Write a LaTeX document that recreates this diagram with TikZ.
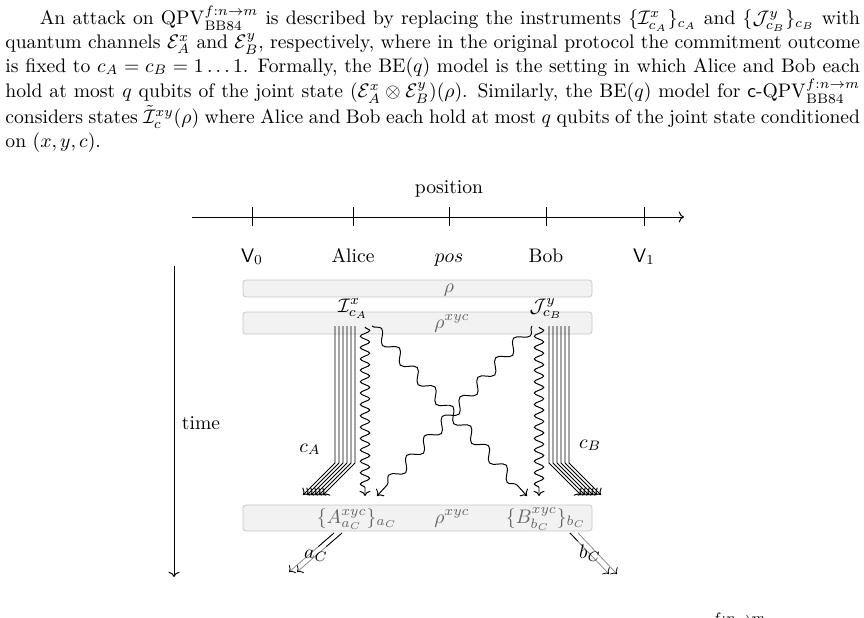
\documentclass[tikz,border=0pt]{standalone}
\usetikzlibrary{decorations.pathmorphing,arrows.meta,calc,fit}
\begin{document}
\begin{tikzpicture}[x=0.5102pt,y=-0.5102pt, line width=0.5pt,
  statebox/.style={draw=black!22, fill=black!5, rounded corners=1.5pt, inner sep=0pt, line width=0.4pt},
  boxlabel/.style={text=black!60, inner sep=0pt, anchor=base},
  lbl/.style={inner sep=0pt, anchor=base},
  cwire/.style={->},
  qwire/.style={->, decorate, decoration={snake, amplitude=2.4pt, segment length=5.8pt, post length=3pt}},
  qdiag/.style={->, decorate, decoration={snake, amplitude=2.8pt, segment length=13.5pt, post length=3pt}},
  outwire/.style={black!45, line width=0.4pt, -{To[color=black]}},
  outdark/.style={black, line width=0.4pt},
]
\useasboundingbox (0,0) rectangle (864,618);

% paragraph
\node[anchor=base west, inner sep=0pt] (para) at (5,25) {\parbox[t]{436pt}{%
\hbox to\hsize{\hspace*{17.5pt}An attack on $\mathrm{QPV}^{f:n\to m}_{\mathrm{BB84}}$ is described by replacing the instruments $\{\mathcal{I}^x_{c_A}\}_{c_A}$ and $\{\mathcal{J}^y_{c_B}\}_{c_B}$ with}%
\hbox to\hsize{quantum channels $\mathcal{E}^x_A$ and $\mathcal{E}^y_B$, respectively, where in the original protocol the commitment outcome}%
\hbox to\hsize{is fixed to $c_A = c_B = 1\ldots1$. Formally, the $\mathrm{BE}(q)$ model is the setting in which Alice and Bob each}%
\hbox to\hsize{hold at most $q$ qubits of the joint state $(\mathcal{E}^x_A\otimes\mathcal{E}^y_B)(\rho)$. Similarly, the $\mathrm{BE}(q)$ model for \textsf{c}-$\mathrm{QPV}^{f:n\to m}_{\mathrm{BB84}}$}%
\hbox to\hsize{considers states $\tilde{\mathcal{I}}^{xy}_c(\rho)$ where Alice and Bob each hold at most $q$ qubits of the joint state conditioned}%
\hbox{on $(x,y,c)$.}}};

% position axis
\node[lbl] (lposition) at (449,193) {position};
\coordinate (pa) at (192,217);
\coordinate (pb) at (684,217);
\draw[->] (pa) -- (pb);
\foreach \n/\x in {t0/252,t1/353,t2/449,t3/546,t4/644} {
  \coordinate (\n a) at (\x,207);
  \coordinate (\n b) at (\x,226);
  \draw (\n a) -- (\n b);
}
\node[lbl] (lv0) at (252,262) {\textsf{V}$_0$};
\node[lbl] (lal) at (353,262) {Alice};
\node[lbl] (lps) at (449,262) {$pos$};
\node[lbl] (lbo) at (546,262) {Bob};
\node[lbl] (lv1) at (644,262) {\textsf{V}$_1$};

% time axis
\coordinate (ta) at (174,266);
\coordinate (tb) at (174,577);
\draw[->] (ta) -- (tb);
\node[lbl] (ltime) at (201,429) {time};

% boxes
\node[statebox, fit={(243,280) (592,297)}] (box1) {};
\node[statebox, fit={(243,312) (592,334)}] (box2) {};
\node[statebox, fit={(243,505) (592,531)}] (box3) {};

\node[boxlabel] (rho1) at (449,292) {$\rho$};
\node[boxlabel] (rho2) at (452,328) {$\rho^{xyc}$};
\node[boxlabel] (rho3) at (452,523) {$\rho^{xyc}$};
\node[boxlabel] (outA) at (357,523) {$\{A^{xyc}_{a_C}\}_{a_C}$};
\node[boxlabel] (outB) at (546,523) {$\{B^{xyc}_{b_C}\}_{b_C}$};

% classical wires
\foreach \i in {0,...,5} {
  \coordinate (ca\i s) at ({335+4*\i},326);
  \coordinate (ca\i m) at ({335+4*\i},463);
  \coordinate (ca\i e) at ({303+4*\i},495);
  \draw[cwire] (ca\i s) -- (ca\i m) -- (ca\i e);
  \coordinate (cb\i s) at ({549+4*\i},326);
  \coordinate (cb\i m) at ({549+4*\i},463);
  \coordinate (cb\i e) at ({581+4*\i},495);
  \draw[cwire] (cb\i s) -- (cb\i m) -- (cb\i e);
}
\node[lbl] (lca) at (310,452) {$c_A$};
\node[lbl] (lcb) at (590,448) {$c_B$};

% quantum wires
\coordinate (qls) at (365,327); \coordinate (qle) at (365,496);
\coordinate (qrs) at (539,327); \coordinate (qre) at (539,496);
\coordinate (d1s) at (372,326); \coordinate (d1e) at (527,496);
\coordinate (d2s) at (532,326); \coordinate (d2e) at (377,496);
\draw[qwire] (qls) -- (qle);
\draw[qwire] (qrs) -- (qre);
\draw[qdiag] (d1s) -- (d1e);
\draw[qdiag] (d2s) -- (d2e);

% instrument labels
\node[lbl] (instA) at (353,312) {$\mathcal{I}^x_{c_A}$};
\node[lbl] (instB) at (546,312) {$\mathcal{J}^y_{c_B}$};

% outputs
\coordinate (a1s) at (342,533); \coordinate (a1e) at (297,572);
\coordinate (a2s) at (334,533); \coordinate (a2e) at (289,572);
\coordinate (b1s) at (570,533); \coordinate (b1e) at (609,574);
\coordinate (b2s) at (578,533); \coordinate (b2e) at (617,574);
\draw[outwire] (a1s) -- (a1e);
\draw[outwire] (a2s) -- (a2e);
\draw[outwire] (b1s) -- (b1e);
\draw[outwire] (b2s) -- (b2e);
\draw[outdark] (a1s) -- ($(a1s)!0.35!(a1e)$);
\draw[outdark] (a2s) -- ($(a2s)!0.35!(a2e)$);
\draw[outdark] (b1s) -- ($(b1s)!0.2!(b1e)$);
\node[inner sep=0pt] (lac) at (316,556) {$a_C$};
\node[inner sep=0pt] (lbc) at (590,553) {$b_C$};

% cut-off text at the bottom
\node[anchor=north west, inner sep=0pt] (cut) at (712,612) {$\scriptstyle f:n\to m$};
\end{tikzpicture}
\end{document}
